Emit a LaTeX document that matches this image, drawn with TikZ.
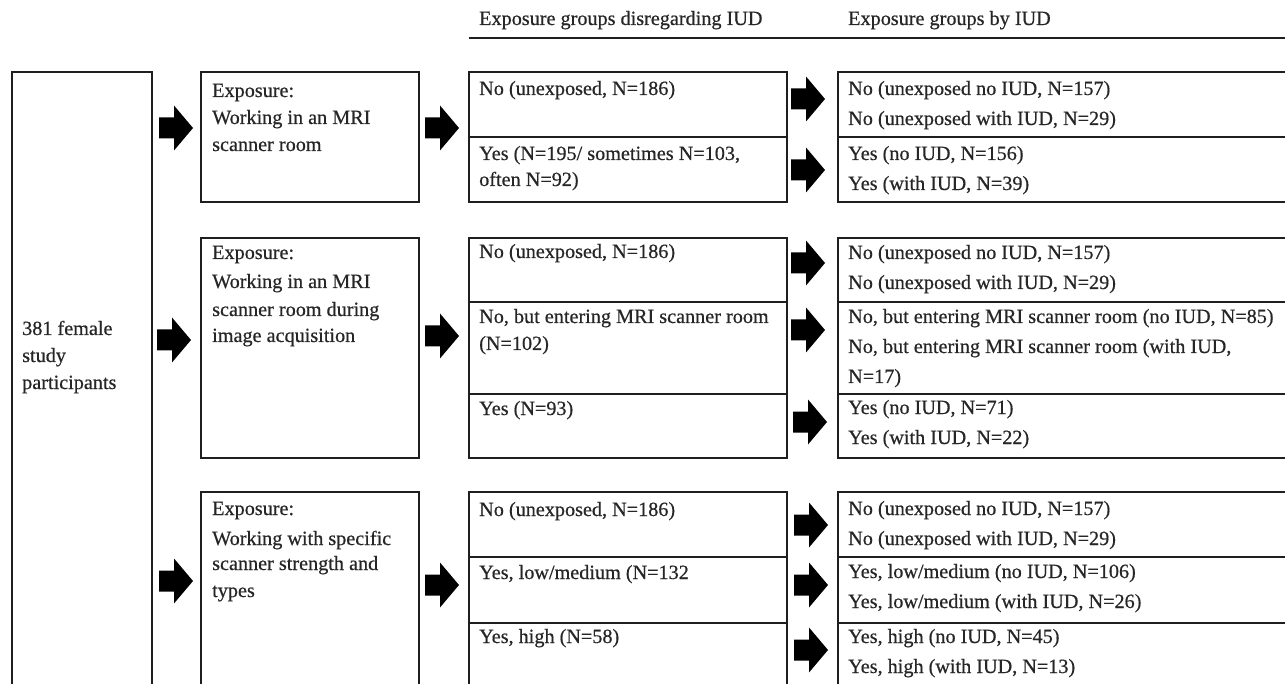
\documentclass[tikz,border=0pt]{standalone}
\usepackage{fontspec}
\setmainfont{Liberation Serif}[FakeBold=0.5]
\newcommand\tline[4]{\node[txt] (#1) at (#2,#3) {#4};}
\newcommand\barrow[2]{\fill[blk] (#1,#2-10.5) -- (#1+15,#2-10.5) -- (#1+15,#2-22.5) -- (#1+34,#2) -- (#1+15,#2+22.5) -- (#1+15,#2+10.5) -- (#1,#2+10.5) -- cycle;}
\begin{document}
\begin{tikzpicture}[x=1pt,y=-1pt,
  box/.style={draw=black!88, line width=1.7pt, anchor=north west, inner sep=0pt},
  txt/.style={anchor=base west, inner sep=0pt, text=black!85, font=\fontsize{20.2}{24}\selectfont},
  blk/.style={fill=black}]
\clip (0,0) rectangle (1285,684);
\fill[white] (0,0) rectangle (1285,684);
% headers
\tline{h1}{479}{25}{Exposure groups disregarding IUD}
\tline{h2}{848}{25}{Exposure groups by IUD}
\draw[line width=1.7pt, draw=black!88] (469,38) -- (1290,38);
% left box
\node[box, minimum width=140pt, minimum height=700pt] (src) at (11,71) {};
\tline{s1}{22}{335}{381 female}
\tline{s2}{22}{362}{study}
\tline{s3}{22}{389}{participants}
% exposure boxes
\node[box, minimum width=218pt, minimum height=130pt] (e1) at (200,71) {};
\node[box, minimum width=218pt, minimum height=220pt] (e2) at (200,237) {};
\node[box, minimum width=218pt, minimum height=300pt] (e3) at (200,491) {};
\tline{e1a}{212}{97}{Exposure:}
\tline{e1b}{212}{124}{Working in an MRI}
\tline{e1c}{212}{151}{scanner room}
\tline{e2a}{212}{259}{Exposure:}
\tline{e2b}{212}{288}{Working in an MRI}
\tline{e2c}{212}{316}{scanner room during}
\tline{e2d}{212}{342}{image acquisition}
\tline{e3a}{212}{515}{Exposure:}
\tline{e3b}{212}{545}{Working with specific}
\tline{e3c}{212}{570}{scanner strength and}
\tline{e3d}{212}{597}{types}
% middle cells
\node[box, minimum width=318pt, minimum height=65pt] (m11) at (468,71) {};
\node[box, minimum width=318pt, minimum height=65pt] (m12) at (468,136) {};
\node[box, minimum width=318pt, minimum height=64pt] (m21) at (468,237) {};
\node[box, minimum width=318pt, minimum height=92pt] (m22) at (468,301) {};
\node[box, minimum width=318pt, minimum height=64pt] (m23) at (468,393) {};
\node[box, minimum width=318pt, minimum height=65pt] (m31) at (468,491) {};
\node[box, minimum width=318pt, minimum height=66pt] (m32) at (468,556) {};
\node[box, minimum width=318pt, minimum height=100pt] (m33) at (468,622) {};
\tline{m11a}{479}{95}{No (unexposed, N=186)}
\tline{m12a}{479}{160}{Yes (N=195/ sometimes N=103,}
\tline{m12b}{479}{186}{often N=92)}
\tline{m21a}{479}{258}{No (unexposed, N=186)}
\tline{m22a}{479}{323}{No, but entering MRI scanner room}
\tline{m22b}{479}{350}{(N=102)}
\tline{m23a}{479}{415}{Yes (N=93)}
\tline{m31a}{479}{516}{No (unexposed, N=186)}
\tline{m32a}{479}{579}{Yes, low/medium (N=132}
\tline{m33a}{479}{643}{Yes, high (N=58)}
% right cells
\node[box, minimum width=500pt, minimum height=65pt] (r11) at (837,71) {};
\node[box, minimum width=500pt, minimum height=65pt] (r12) at (837,136) {};
\node[box, minimum width=500pt, minimum height=64pt] (r21) at (837,237) {};
\node[box, minimum width=500pt, minimum height=92pt] (r22) at (837,301) {};
\node[box, minimum width=500pt, minimum height=64pt] (r23) at (837,393) {};
\node[box, minimum width=500pt, minimum height=65pt] (r31) at (837,491) {};
\node[box, minimum width=500pt, minimum height=66pt] (r32) at (837,556) {};
\node[box, minimum width=500pt, minimum height=100pt] (r33) at (837,622) {};
\tline{r11a}{848}{95}{No (unexposed no IUD, N=157)}
\tline{r11b}{848}{125}{No (unexposed with IUD, N=29)}
\tline{r12a}{848}{160}{Yes (no IUD, N=156)}
\tline{r12b}{848}{190}{Yes (with IUD, N=39)}
\tline{r21a}{848}{259}{No (unexposed no IUD, N=157)}
\tline{r21b}{848}{289}{No (unexposed with IUD, N=29)}
\tline{r22a}{848}{323}{No, but entering MRI scanner room (no IUD, N=85)}
\tline{r22b}{848}{353}{No, but entering MRI scanner room (with IUD,}
\tline{r22c}{848}{383}{N=17)}
\tline{r23a}{848}{414}{Yes (no IUD, N=71)}
\tline{r23b}{848}{444}{Yes (with IUD, N=22)}
\tline{r31a}{848}{515}{No (unexposed no IUD, N=157)}
\tline{r31b}{848}{545}{No (unexposed with IUD, N=29)}
\tline{r32a}{848}{578}{Yes, low/medium (no IUD, N=106)}
\tline{r32b}{848}{608}{Yes, low/medium (with IUD, N=26)}
\tline{r33a}{848}{643}{Yes, high (no IUD, N=45)}
\tline{r33b}{848}{673}{Yes, high (with IUD, N=13)}
% block arrows
\barrow{159}{128}
\barrow{425}{128}
\barrow{791}{99}
\barrow{791}{170}
\barrow{157}{340}
\barrow{425}{336}
\barrow{791}{263}
\barrow{791}{330}
\barrow{793}{422}
\barrow{159}{581}
\barrow{425}{585}
\barrow{794}{525}
\barrow{794}{585}
\barrow{794}{650}
\end{tikzpicture}
\end{document}
